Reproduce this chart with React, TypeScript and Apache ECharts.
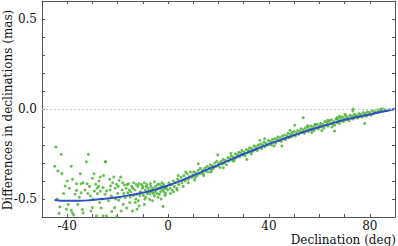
import React, { useEffect, useRef } from "react";
import * as echarts from "echarts";

const curveDec = [-45, -40, -35, -30, -25, -20, -15, -10, -5, 0, 5, 10, 15, 20, 25, 30, 35, 40, 45, 50, 55, 60, 65, 70, 75, 80, 85, 90];
const curveVal = [-0.505, -0.51, -0.51, -0.505, -0.498, -0.49, -0.478, -0.465, -0.447, -0.425, -0.399, -0.37, -0.34, -0.31, -0.28, -0.25, -0.222, -0.195, -0.17, -0.145, -0.122, -0.1, -0.08, -0.06, -0.045, -0.03, -0.015, 0.0];

const scatterLeft: number[][] = [
  [-44.5, -0.211], [-42.4, -0.252], [-31.6, -0.252], [-45, -0.318], [-43.7, -0.344], [-38.4, -0.318], [-32.4, -0.293],
  [-24.8, -0.293], [-42.1, -0.359], [-37.9, -0.39], [-40, -0.4], [-40.8, -0.428], [-36.3, -0.415], [-34.5, -0.415],
  [-33.7, -0.41], [-32.1, -0.415], [-30, -0.385], [-28.7, -0.418], [-26.9, -0.378], [-25.6, -0.37], [-36.3, -0.452],
  [-34.5, -0.465], [-36.9, -0.474], [-29.2, -0.456], [-26.9, -0.456], [-25.8, -0.437], [-25, -0.474], [-30.8, -0.483],
  [-42.9, -0.544], [-40.3, -0.557], [-38.4, -0.563], [-37.9, -0.578], [-37.4, -0.589], [-34, -0.559], [-33.7, -0.578],
  [-30, -0.548], [-30.6, -0.567], [-25.8, -0.593], [-28.4, -0.594], [-27.1, -0.52], [-39.2, -0.44], [-35.2, -0.49],
  [-33, -0.45], [-31.2, -0.43], [-29.8, -0.5], [-28, -0.47], [-27.6, -0.43], [-26.2, -0.5], [-35.8, -0.53], [-41.4, -0.47],
  [-24.9, -0.293], [-21.5, -0.378], [-18.8, -0.378], [-19.4, -0.396], [-20.4, -0.418], [-22.8, -0.428], [-24.4, -0.456],
  [-17.3, -0.422], [-15.7, -0.415], [-13.6, -0.41], [-11.5, -0.415], [-9.4, -0.41], [-7, -0.415], [-5.4, -0.404],
  [-3.4, -0.418], [-22.5, -0.483], [-19.6, -0.507], [-17.8, -0.53], [-21.2, -0.548], [-22.3, -0.57], [-18.6, -0.567],
  [-14.1, -0.567], [-12.3, -0.557], [-11.5, -0.539], [-15.2, -0.52], [-9.4, -0.53], [-7.3, -0.502], [-2, -0.541],
  [-5.4, -0.483], [-3.5, -0.474], [-12.5, -0.474], [-10.7, -0.465], [-16, -0.465], [-17, -0.493], [-24.4, -0.594],
  [-20.4, -0.598], [-23.6, -0.51], [-21, -0.44], [-20, -0.47], [-18.2, -0.45], [-16.6, -0.44], [-15, -0.49], [-14.4, -0.43],
  [-13.2, -0.45], [-12.8, -0.5], [-12, -0.43], [-11, -0.46], [-10.2, -0.44], [-9.8, -0.48], [-9, -0.45], [-8.6, -0.43],
  [-8.2, -0.47], [-7.8, -0.44], [-7.5, -0.455], [-6.8, -0.43], [-6.4, -0.46], [-6, -0.44], [-5.8, -0.47], [-5, -0.43],
  [-4.6, -0.45], [-4.2, -0.42], [-3.8, -0.44], [-3, -0.46], [-2.6, -0.43], [-2.2, -0.45], [-1.8, -0.42], [-1.4, -0.44],
  [-1, -0.47], [-0.6, -0.43], [-0.2, -0.45], [-14.8, -0.46], [-13.8, -0.48], [-11.8, -0.51], [-10.5, -0.42],
  [-8.8, -0.49], [-6.2, -0.51], [-4, -0.49], [-2.8, -0.5], [-1.2, -0.48], [-16.4, -0.55], [-19, -0.49], [-23, -0.45],
  [-27.4, -0.4], [-29.4, -0.36], [-34.8, -0.36], [-39.6, -0.53], [-44, -0.5], [-43.2, -0.58], [-31.8, -0.47], [-26.6, -0.55],
  [-22, -0.41], [-20.8, -0.5], [-19.8, -0.43], [-17.6, -0.47], [-16.2, -0.42], [-15.4, -0.45], [-14, -0.44], [-12.6, -0.42],
  [-11.2, -0.48], [-10, -0.43], [-8.4, -0.42], [-7.2, -0.47], [-6.6, -0.45], [-5.2, -0.46], [-4.4, -0.47], [-3.2, -0.44],
  [-2.4, -0.41], [-1.6, -0.46], [-0.8, -0.44], [-9.2, -0.5], [-13, -0.52], [-18, -0.41], [-23.2, -0.39], [-28.2, -0.44],
];

const scatterRight: number[][] = [
  [0.3, -0.41], [0.8, -0.44], [1.2, -0.42], [1.6, -0.45], [2.1, -0.4], [2.5, -0.43], [2.9, -0.41], [3.4, -0.44],
  [3.8, -0.39], [4.2, -0.42], [4.6, -0.4], [5.1, -0.38], [5.5, -0.41], [5.9, -0.395], [6.3, -0.37], [6.8, -0.4],
  [7.2, -0.385], [7.6, -0.36], [8.1, -0.39], [8.5, -0.375], [8.9, -0.35], [9.4, -0.38], [9.8, -0.365], [10.2, -0.35],
  [10.7, -0.38], [11.1, -0.355], [11.5, -0.37], [12, -0.34], [12.4, -0.36], [12.8, -0.33], [13.3, -0.355], [13.7, -0.34],
  [14.1, -0.37], [14.6, -0.33], [15, -0.345], [15.4, -0.32], [15.9, -0.35], [16.3, -0.325], [16.7, -0.31], [17.2, -0.34],
  [17.6, -0.315], [18, -0.33], [18.5, -0.3], [18.9, -0.32], [19.3, -0.29], [19.8, -0.315], [20.2, -0.3], [20.6, -0.325],
  [21.1, -0.29], [21.5, -0.305], [21.9, -0.28], [22.4, -0.3], [22.8, -0.285], [23.2, -0.31], [23.7, -0.27], [24.1, -0.29],
  [24.5, -0.275], [25, -0.26], [25.4, -0.285], [25.8, -0.265], [26.3, -0.28], [26.7, -0.25], [27.1, -0.27], [27.6, -0.255],
  [28, -0.24], [28.4, -0.265], [28.9, -0.245], [29.3, -0.23], [29.7, -0.255], [30.2, -0.24], [30.6, -0.26], [31, -0.225],
  [31.5, -0.245], [31.9, -0.23], [32.3, -0.215], [32.8, -0.24], [33.2, -0.22], [33.6, -0.235], [34.1, -0.205], [34.5, -0.225],
  [34.9, -0.21], [35.4, -0.23], [35.8, -0.2], [36.2, -0.215], [36.7, -0.195], [37.1, -0.22], [37.5, -0.2], [38, -0.185],
  [38.4, -0.21], [38.8, -0.19], [39.3, -0.2], [39.7, -0.175], [40.1, -0.195], [40.6, -0.18], [41, -0.2], [41.4, -0.17],
  [41.9, -0.185], [42.3, -0.165], [42.7, -0.19], [43.2, -0.17], [43.6, -0.155], [44, -0.175], [44.5, -0.16], [44.9, -0.18],
  [45.3, -0.15], [45.8, -0.165], [46.2, -0.145], [46.6, -0.17], [47.1, -0.15], [47.5, -0.135], [47.9, -0.16], [48.4, -0.14],
  [48.8, -0.155], [49.2, -0.13], [49.7, -0.145], [50.1, -0.125], [50.5, -0.15], [51, -0.135], [51.4, -0.12], [51.8, -0.14],
  [52.3, -0.125], [52.7, -0.11], [53.1, -0.13], [53.6, -0.115], [54, -0.135], [54.4, -0.105], [54.9, -0.12], [55.3, -0.1],
  [55.7, -0.125], [56.2, -0.11], [56.6, -0.095], [57, -0.115], [57.5, -0.1], [57.9, -0.12], [58.3, -0.09], [58.8, -0.105],
  [59.2, -0.085], [59.6, -0.11], [60.1, -0.095], [60.5, -0.08], [60.9, -0.1], [61.4, -0.085], [61.8, -0.105], [62.2, -0.07],
  [62.7, -0.09], [63.1, -0.075], [63.5, -0.095], [64, -0.065], [64.4, -0.08], [64.8, -0.06], [65.3, -0.085], [65.7, -0.07],
  [66.1, -0.09], [66.6, -0.055], [67, -0.075], [67.4, -0.06], [67.9, -0.08], [68.3, -0.05], [68.7, -0.065], [69.2, -0.045],
  [69.6, -0.07], [70, -0.055], [70.5, -0.04], [70.9, -0.06], [71.3, -0.045], [71.8, -0.065], [72.2, -0.035], [72.6, -0.05],
  [73.1, -0.04], [73.5, -0.055], [73.9, -0.03], [74.4, -0.045], [74.8, -0.035], [75.2, -0.05], [75.7, -0.025], [76.1, -0.04],
  [76.5, -0.03], [77, -0.045], [77.4, -0.02], [77.8, -0.035], [78.3, -0.025], [78.7, -0.04], [79.1, -0.015], [79.6, -0.03],
  [80, -0.02], [80.5, -0.035], [81, -0.01], [81.5, -0.025], [82, -0.015], [82.6, -0.02], [83.2, -0.005], [83.8, -0.015],
  [84.5, -0.01], [85.2, 0.0], [86, -0.005], [87, -0.008],
  [38.3, -0.165], [36.4, -0.174], [19.7, -0.255], [24.9, -0.246], [21.9, -0.326], [12, -0.304], [31.2, -0.28],
  [53.6, -0.048], [50.2, -0.09], [55.4, -0.093], [58.3, -0.085], [63.3, -0.063], [67.1, -0.048], [73.3, -0.011],
  [78, -0.081], [66, -0.122], [48.3, -0.118], [45.1, -0.206], [84.6, -0.011], [88, -0.004], [73.4, 0.0], [84.3, 0.0],
  [1, -0.47], [2.2, -0.46], [3.6, -0.45], [6, -0.43], [8, -0.41], [10.5, -0.395], [14, -0.36], [17, -0.35], [4, -0.37],
  [7, -0.35], [26, -0.29], [33, -0.25], [42, -0.205], [57, -0.13], [61, -0.12], [65, -0.1], [68, -0.04], [70.2, -0.03],
];

const yTickLabels = [-0.5, 0.0, 0.5];
const xTickLabels = [-40, 0, 40, 80];

const FONT = "'DejaVu Serif', 'Liberation Serif', serif";
const AXIS_COLOR = "#555";

export default function App() {
  const ref = useRef<HTMLDivElement>(null);
  useEffect(() => {
    if (!ref.current) return;
    const chart = echarts.init(ref.current, undefined, { renderer: "svg" });
    const curve = curveDec.map((d, i) => [d, curveVal[i]]);
    const axisCommon = {
      axisLine: { show: true, onZero: false, lineStyle: { color: AXIS_COLOR, width: 1 } },
      axisTick: { show: true, inside: true, length: 3, lineStyle: { color: AXIS_COLOR } },
      splitLine: { show: false },
    };
    chart.setOption({
      animation: false,
      grid: { left: 42, right: 1, top: 1, bottom: 29, containLabel: false },
      xAxis: [
        {
          type: "value", min: -50, max: 90, interval: 10, position: "bottom",
          ...axisCommon,
          axisLabel: {
            show: true, margin: 3, color: "#111", fontFamily: FONT, fontSize: 12, lineHeight: 12,
            formatter: (v: number) => (xTickLabels.indexOf(v) >= 0 ? String(v) : ""),
          },
        },
        {
          type: "value", min: -50, max: 90, interval: 10, position: "top",
          ...axisCommon, axisLabel: { show: false },
        },
      ],
      yAxis: [
        {
          type: "value", min: -0.6, max: 0.6, interval: 0.1, position: "left",
          ...axisCommon,
          axisLabel: {
            show: true, margin: 5, color: "#111", fontFamily: FONT, fontSize: 12,
            formatter: (v: number) => {
              const hit = yTickLabels.find((t) => Math.abs(t - v) < 1e-6);
              return hit === undefined ? "" : hit.toFixed(1);
            },
          },
        },
        {
          type: "value", min: -0.6, max: 0.6, interval: 0.1, position: "right",
          ...axisCommon, axisLabel: { show: false },
        },
      ],
      graphic: [
        {
          type: "text", x: 396, y: 246,
          style: {
            text: "Declination (deg)", fontFamily: FONT, fontSize: 12, lineHeight: 12, fill: "#111",
            align: "right", verticalAlign: "bottom",
          },
        },
        {
          type: "text", x: 8, y: 110, rotation: Math.PI / 2,
          style: {
            text: "Differences in declinations (mas)", fontFamily: FONT, fontSize: 12, fill: "#111",
            align: "center", verticalAlign: "middle",
          },
        },
      ],
      series: [
        {
          type: "scatter", data: scatterLeft.concat(scatterRight), symbol: "circle", symbolSize: 3,
          itemStyle: { color: "#42b02a" }, silent: true,
          markLine: {
            silent: true, symbol: "none", label: { show: false },
            lineStyle: { color: "#c8c8c8", type: [2, 2], width: 1 },
            data: [{ yAxis: 0 }],
          },
        },
        {
          type: "line", data: curve, smooth: true, showSymbol: false,
          lineStyle: { color: "#2f4fc4", width: 2 }, silent: true,
        },
      ],
    });
    return () => chart.dispose();
  }, []);
  return <div ref={ref} style={{ width: 398, height: 246, position: "absolute", left: 0, top: 0 }} />;
}
